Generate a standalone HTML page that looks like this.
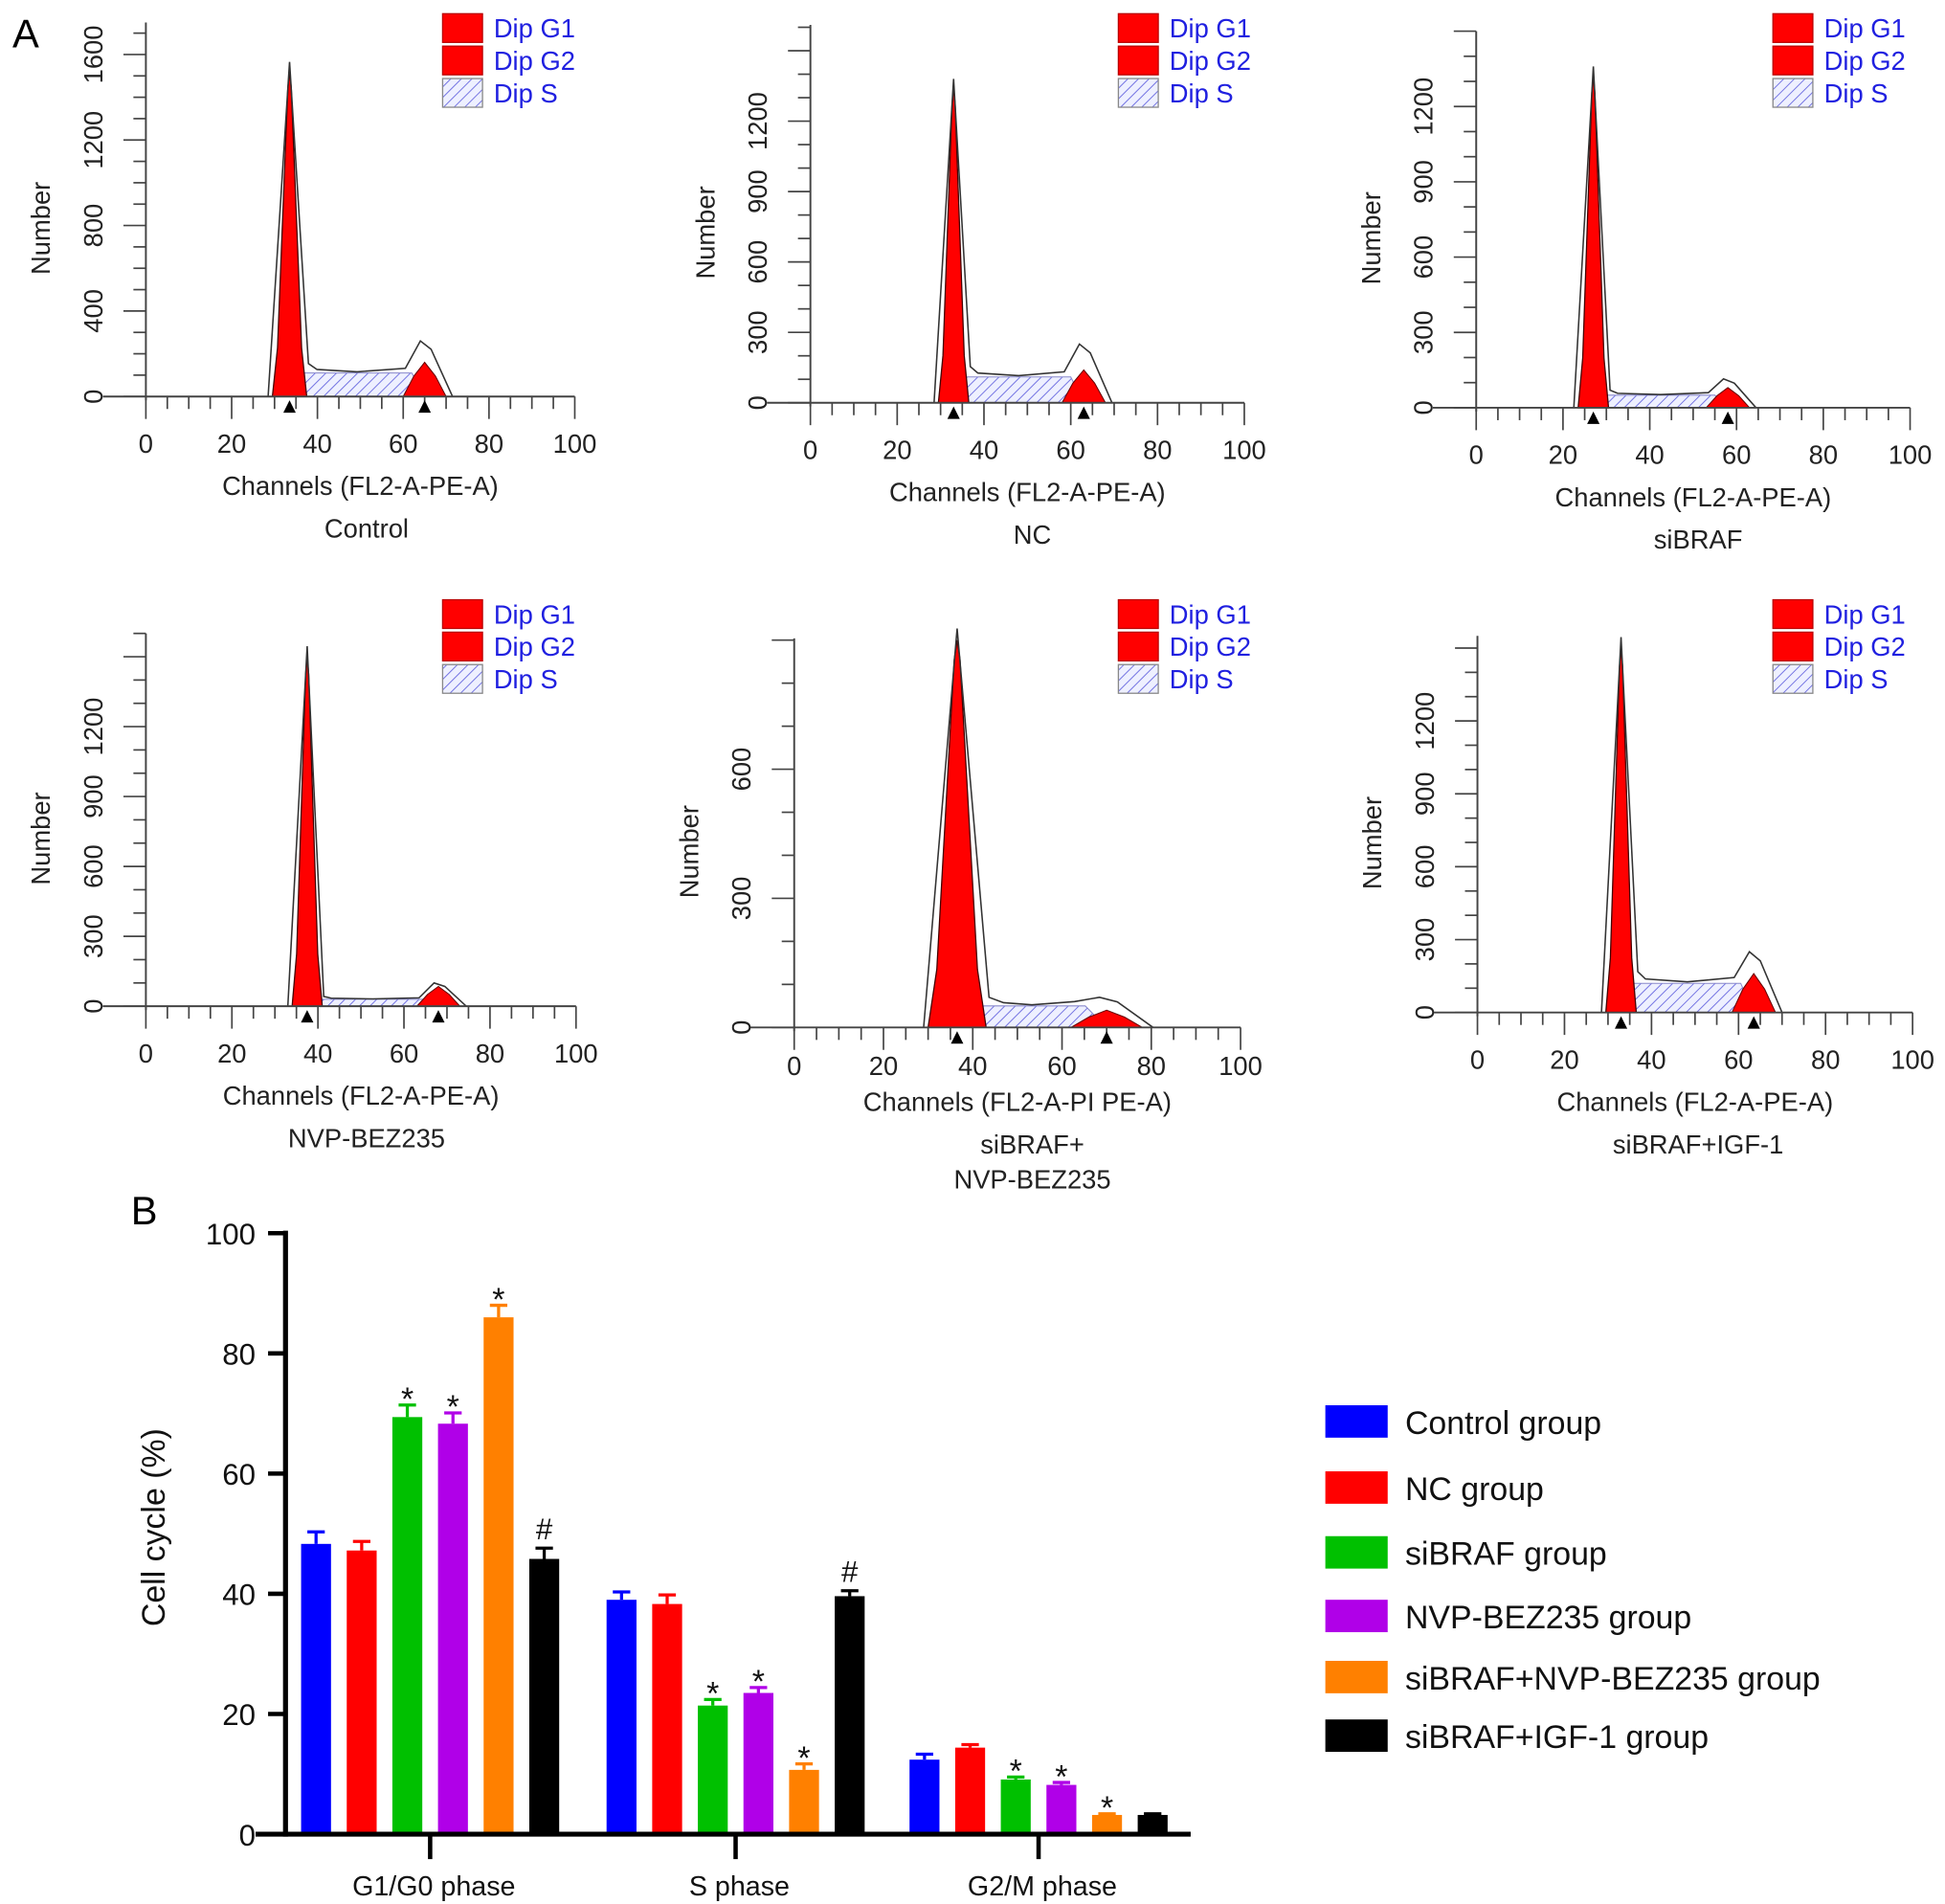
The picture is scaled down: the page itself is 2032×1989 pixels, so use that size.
<!DOCTYPE html>
<html><head><meta charset="utf-8"><style>
html,body{margin:0;padding:0;background:#fff;}
svg{display:block;font-family:"Liberation Sans",Arial,sans-serif;}
</style></head><body>
<svg id="fig" width="2032" height="1989" viewBox="0 0 1560 1527" preserveAspectRatio="none" xmlns="http://www.w3.org/2000/svg">
<defs>
<pattern id="hatch" patternUnits="userSpaceOnUse" width="6" height="6" patternTransform="rotate(45)">
<rect width="6" height="6" fill="#eef0ff"/><line x1="0" y1="0" x2="0" y2="6" stroke="#6a6ae0" stroke-width="1.4"/>
</pattern>
</defs>
<text x="10" y="38" font-size="32">A</text>
<text x="105" y="982" font-size="32">B</text>
<g id="hists"></g>
<g id="bars"></g>
</svg>
<script>
const NS='http://www.w3.org/2000/svg';
function mk(tag,attrs,parent,txt){const e=document.createElementNS(NS,tag);for(const k in attrs)e.setAttribute(k,attrs[k]);if(txt!==undefined)e.textContent=txt;parent.appendChild(e);return e;}

// ---------- Histogram data (panel A) ----------
const histTitles=[["Control"],["NC"],["siBRAF"],["NVP-BEZ235"],["siBRAF+","NVP-BEZ235"],["siBRAF+IGF-1"]];
const histXLabels=["Channels (FL2-A-PE-A)","Channels (FL2-A-PE-A)","Channels (FL2-A-PE-A)","Channels (FL2-A-PE-A)","Channels (FL2-A-PI PE-A)","Channels (FL2-A-PE-A)"];
const histYTickStep=[400,300,300,300,300,300];
const histYTickMax=[1600,1200,1200,1200,600,1200];
const histYMax=[1750,1610,1500,1600,904,1550];
const g1Pos=[33.5,33,27,37.5,36.5,33];
const g1Height=[1520,1340,1320,1500,900,1500];
const g1Half=[4,3.5,3.5,3.5,6.5,3.5];
const g2Pos=[65,63,58,68,70,63.5];
const g2Height=[160,140,80,85,40,160];
const g2Half=[5,5,5,5,8,5];
const sHeight=[110,110,50,30,50,120];
const g2Outline=[260,250,115,100,70,250];
// layout (pixel geometry, not data)
const L=[
 {x0:117,x1:461,base:318,top:18,lx:355,ly:12,tx:294,o:0},
 {x0:650,x1:998,base:323,top:20,lx:897,ly:12,tx:828,o:0},
 {x0:1184,x1:1532,base:327,top:25,lx:1422,ly:12,tx:1362,o:0},
 {x0:117,x1:462,base:807,top:508,lx:355,ly:482,tx:294,o:0},
 {x0:637,x1:995,base:824,top:512,lx:897,ly:482,tx:828,o:-12},
 {x0:1185,x1:1534,base:812,top:510,lx:1422,ly:482,tx:1362,o:0}
];
const hg=document.getElementById('hists');
L.forEach((p,i)=>{
 const g=mk('g',{},hg);
 
 
 const X=c=>p.x0+(p.x1-p.x0)*c/100;
 const tickPx=(p.base-p.top)/histYMax[i];
 const Y=v=>p.base-v*tickPx;
 const s=mk('polygon',{points:[[X(g1Pos[i]+g1Half[i]*0.2),Y(0)],[X(g1Pos[i]+g1Half[i]*0.5),Y(sHeight[i])],[X(g2Pos[i]-g2Half[i]*0.6),Y(sHeight[i])],[X(g2Pos[i]),Y(0)]].map(a=>a.join(',')).join(' '),fill:'url(#hatch)',stroke:'#8888cc','stroke-width':0.8},g);
 
 
 const g2=mk('polygon',{points:[[X(g2Pos[i]-g2Half[i]),Y(0)],[X(g2Pos[i]-g2Half[i]*0.5),Y(g2Height[i]*0.6)],[X(g2Pos[i]),Y(g2Height[i])],[X(g2Pos[i]+g2Half[i]*0.5),Y(g2Height[i]*0.6)],[X(g2Pos[i]+g2Half[i]),Y(0)]].map(a=>a.join(',')).join(' '),fill:'#f00',stroke:'#600','stroke-width':0.8},g);
 
 
 const g1=mk('polygon',{points:[[X(g1Pos[i]-g1Half[i]),Y(0)],[X(g1Pos[i]-g1Half[i]*0.7),Y(g1Height[i]*0.15)],[X(g1Pos[i]-g1Half[i]*0.4),Y(g1Height[i]*0.55)],[X(g1Pos[i]-g1Half[i]*0.1),Y(g1Height[i]*0.95)],[X(g1Pos[i]),Y(g1Height[i])],[X(g1Pos[i]+g1Half[i]*0.1),Y(g1Height[i]*0.95)],[X(g1Pos[i]+g1Half[i]*0.4),Y(g1Height[i]*0.55)],[X(g1Pos[i]+g1Half[i]*0.7),Y(g1Height[i]*0.15)],[X(g1Pos[i]+g1Half[i]),Y(0)]].map(a=>a.join(',')).join(' '),fill:'#f00',stroke:'#400','stroke-width':1},g);
 
 
 const pts=[[X(g1Pos[i]-g1Half[i]-1),Y(0)],[X(g1Pos[i]),Y(g1Height[i]*1.03)],[X(g1Pos[i]+g1Half[i]*1.1),Y(sHeight[i]*1.4)],[X(g1Pos[i]+g1Half[i]*1.6),Y(sHeight[i]*1.15)],[X((g1Pos[i]+g2Pos[i])/2),Y(sHeight[i]*1.05)],[X(g2Pos[i]-g2Half[i]*0.9),Y(sHeight[i]*1.2)],[X(g2Pos[i]-g2Half[i]*0.2),Y(g2Outline[i])],[X(g2Pos[i]+g2Half[i]*0.3),Y(g2Outline[i]*0.85)],[X(g2Pos[i]+g2Half[i]*1.3),Y(0)]];
 const o=mk('polyline',{points:pts.map(a=>a.join(',')).join(' '),fill:'none',stroke:'#333','stroke-width':1.2},g);
 
 
 mk('line',{x1:p.x0,y1:p.top,x2:p.x0,y2:p.base+3,stroke:'#444','stroke-width':1.5},g);
 mk('line',{x1:X(-10),y1:p.base,x2:p.x1,y2:p.base,stroke:'#444','stroke-width':1.5},g);
 for(let c=0;c<=100;c+=5){const big=c%20===0;mk('line',{x1:X(c),y1:p.base,x2:X(c),y2:p.base+(big?18:10),stroke:'#444','stroke-width':1.3},g);
  if(big){const t=mk('text',{x:X(c),y:p.base+45+p.o+ (i===4?5:0),'font-size':21,'text-anchor':'middle',fill:'#222'},g,String(c));}}
 const minor=histYTickStep[i]/ (histYTickStep[i]===400?4:3);
 for(let v=0;v<=histYMax[i];v+=minor){const big=Math.abs(v/histYTickStep[i]-Math.round(v/histYTickStep[i]))<1e-6;mk('line',{x1:p.x0-(big?18:10),y1:Y(v),x2:p.x0,y2:Y(v),stroke:'#444','stroke-width':1.3},g);}
 for(let v=0;v<=histYTickMax[i];v+=histYTickStep[i]){const t=mk('text',{x:p.x0-42,y:Y(v),'font-size':21,'text-anchor':'middle',fill:'#222',transform:`rotate(-90 ${p.x0-42} ${Y(v)})`,dy:7},g,String(v));}
 [g1Pos[i],g2Pos[i]].forEach(c=>{const m=mk('polygon',{points:`${X(c)-5},${p.base+13} ${X(c)+5},${p.base+13} ${X(c)},${p.base+3}`,fill:'#000'},g);});
 const yl=mk('text',{x:0,y:0,'font-size':21,'text-anchor':'middle',fill:'#222',transform:`translate(${p.x0-77},${(p.top+p.base)/2+15}) rotate(-90)`},g,'Number');
 
 const xl=mk('text',{x:(p.x0+p.x1)/2,y:p.base+79+p.o,'font-size':21,'text-anchor':'middle',fill:'#222'},g,histXLabels[i]);
 
 histTitles[i].forEach((tl,k)=>{const t=mk('text',{x:p.tx,y:p.base+113+p.o+k*28,'font-size':21,'text-anchor':'middle',fill:'#222'},g,tl);});
 ['Dip G1','Dip G2','Dip S'].forEach((n,k)=>{const ly=p.ly+k*26;const r=mk('rect',{x:p.lx,y:ly-1,width:32,height:23,fill:k<2?'#f00':'url(#hatch)',stroke:k<2?'#b00':'#888','stroke-width':1},g);
  const t=mk('text',{x:p.lx+41,y:ly+18,'font-size':21,fill:'#2020e0'},g,n);});
});

// ---------- Bar chart data (panel B) ----------
const phases=["G1/G0 phase","S phase","G2/M phase"];
const groups=["Control group","NC group","siBRAF group","NVP-BEZ235 group","siBRAF+NVP-BEZ235 group","siBRAF+IGF-1 group"];
const colors=["#0000ff","#ff0000","#00c000","#b000e8","#ff8000","#000000"];
const valG1=[48.3,47.2,69.4,68.3,86.0,45.8];
const valS=[39.0,38.3,21.4,23.5,10.7,39.6];
const valG2=[12.4,14.4,9.1,8.2,3.2,3.2];
const errG1=[2.0,1.5,2.0,1.8,2.0,1.8];
const errS=[1.3,1.5,1.0,0.9,1.0,0.9];
const errG2=[0.9,0.5,0.4,0.4,0.2,0.2];
const marks=[["","","*","*","*","#"],["","","*","*","*","#"],["","","*","*","*",""]];
const yTicks=[0,20,40,60,80,100];
const bg=document.getElementById('bars');
const AX=229,Y0=1471,Y100=989;
const yS=v=>Y0-(Y0-Y100)*v/100;
const groupCenter=[345,590,833],barStep=36.6,barW=24;
const xS=(gi,k)=>groupCenter[gi]+(k-2.5)*barStep;
const vals=[valG1,valS,valG2],errs=[errG1,errS,errG2];
vals.forEach((arr,gi)=>arr.forEach((v,k)=>{
 const cx=xS(gi,k);
 const r=mk('rect',{x:cx-barW/2,y:yS(v),width:barW,height:Y0-yS(v),fill:colors[k]},bg);
 
 
 const e=errs[gi][k];
 mk('line',{x1:cx,y1:yS(v),x2:cx,y2:yS(v+e),stroke:colors[k],'stroke-width':2.5},bg);
 mk('line',{x1:cx-7,y1:yS(v+e),x2:cx+7,y2:yS(v+e),stroke:colors[k],'stroke-width':2.5},bg);
 if(marks[gi][k]){const t=mk('text',{x:cx,y:yS(v+e)-(marks[gi][k]==='#'?7:-4),'font-size':marks[gi][k]==='#'?24:26,'text-anchor':'middle',fill:'#111'},bg,marks[gi][k]);}
}));
mk('line',{x1:AX,y1:Y100-2,x2:AX,y2:Y0+2,stroke:'#000','stroke-width':4},bg);
mk('line',{x1:205,y1:Y0,x2:955,y2:Y0,stroke:'#000','stroke-width':4},bg);
yTicks.forEach(v=>{mk('line',{x1:AX-14,y1:yS(v),x2:AX,y2:yS(v),stroke:'#000','stroke-width':3.5},bg);
 const t=mk('text',{x:AX-24,y:yS(v)+9,'font-size':24,'text-anchor':'end',fill:'#111'},bg,String(v));});
phases.forEach((ph,gi)=>{mk('line',{x1:groupCenter[gi],y1:Y0,x2:groupCenter[gi],y2:Y0+20,stroke:'#000','stroke-width':3.5},bg);
 const t=mk('text',{x:groupCenter[gi]+3,y:1520,'font-size':22,'text-anchor':'middle',fill:'#111'},bg,ph);});
const yt=mk('text',{x:0,y:0,'font-size':26,'text-anchor':'middle',fill:'#111',transform:`translate(132,1225) rotate(-90)`},bg,'Cell cycle (%)');

const legY=[1140,1193,1245,1296,1345,1392];
groups.forEach((gname,k)=>{const r=mk('rect',{x:1063,y:legY[k]-13,width:50,height:26,fill:colors[k]},bg);
 const t=mk('text',{x:1127,y:legY[k]+10,'font-size':26,fill:'#111'},bg,gname);});
</script>
</body></html>
